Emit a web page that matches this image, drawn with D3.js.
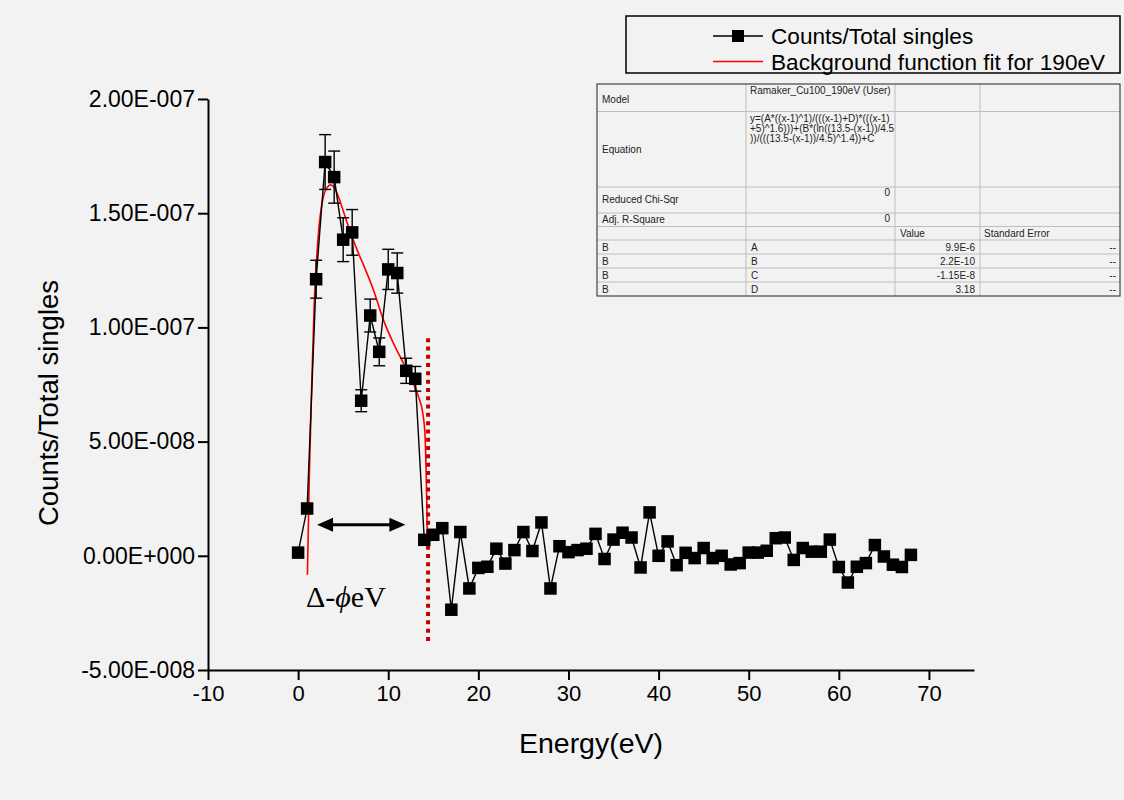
<!DOCTYPE html>
<html>
<head>
<meta charset="utf-8">
<script src="https://cdn.jsdelivr.net/npm/d3@7"></script>
<style>
  html, body { margin: 0; padding: 0; background: #f2f2f2; }
  svg { display: block; font-family: "Liberation Sans", Arial, sans-serif; }
</style>
</head>
<body>
<svg id="chart" width="1124" height="800"></svg>
<script>
// Measured spectrum: energy (eV) vs counts normalised to total singles
const energy = [0,1,2,3,4,5,6,7,8,9,10,11,12,13,14,15,16,17,18,19,20,21,22,23,24,25,26,27,28,29,30,
  31,32,33,34,35,36,37,38,39,40,41,42,43,44,45,46,47,48,49,50,51,52,53,54,55,56,57,58,59,60,
  61,62,63,64,65,66,67,68];
const ratio = [0.14e-8,2.07e-8,12.11e-8,17.24e-8,16.58e-8,13.84e-8,14.16e-8,6.79e-8,10.52e-8,8.93e-8,
  12.54e-8,12.38e-8,8.10e-8,7.75e-8,0.70e-8,0.92e-8,1.21e-8,-2.36e-8,1.04e-8,-1.43e-8,
  -0.53e-8,-0.48e-8,0.31e-8,-0.34e-8,0.25e-8,1.04e-8,0.21e-8,1.46e-8,-1.43e-8,0.42e-8,
  0.16e-8,0.25e-8,0.31e-8,0.96e-8,-0.14e-8,0.71e-8,1.01e-8,0.80e-8,-0.51e-8,1.90e-8,
  0.00e-8,0.63e-8,-0.41e-8,0.13e-8,-0.10e-8,0.34e-8,-0.10e-8,0.00e-8,-0.38e-8,-0.32e-8,
  0.14e-8,0.14e-8,0.22e-8,0.77e-8,0.80e-8,-0.18e-8,0.34e-8,0.18e-8,0.18e-8,0.71e-8,
  -0.49e-8,-1.17e-8,-0.48e-8,-0.32e-8,0.47e-8,-0.03e-8,-0.39e-8,-0.49e-8,0.04e-8];
// Error bars (only the peak region has errors larger than the marker)
const ratioErr = [0,0,0.83e-8,1.20e-8,1.14e-8,0.96e-8,1.00e-8,0.48e-8,0.72e-8,0.61e-8,
  0.88e-8,0.88e-8,0.55e-8,0.54e-8,0,0,0,0,0,0,
  0,0,0,0,0,0,0,0,0,0, 0,0,0,0,0,0,0,0,0,0, 0,0,0,0,0,0,0,0,0,0,
  0,0,0,0,0,0,0,0,0,0, 0,0,0,0,0,0,0,0,0];

// Background fit curve for 190 eV
const fitEnergy = [1.03,1.25,1.55,1.78,2.07,2.44,2.81,3.18,3.55,3.92,4.47,5.03,5.77,6.69,7.24,
  8.35,9.46,10.57,11.68,12.61,13.35,13.83,14.09,14.20,14.28,14.34];
const fitRatio = [-0.83e-8,3.62e-8,8.00e-8,10.92e-8,13.10e-8,14.86e-8,15.73e-8,16.10e-8,16.24e-8,
  16.17e-8,15.73e-8,15.07e-8,14.20e-8,13.25e-8,12.75e-8,11.65e-8,10.33e-8,9.31e-8,8.44e-8,
  7.71e-8,6.97e-8,6.25e-8,5.22e-8,3.77e-8,2.32e-8,0.70e-8];

// Axes
const xDomain = [-10, 75];
const yDomain = [-5e-8, 2e-7];
const xTicks = [-10, 0, 10, 20, 30, 40, 50, 60, 70];
const xTickLabels = ["-10", "0", "10", "20", "30", "40", "50", "60", "70"];
const xMinorTicks = [-5, 5, 15, 25, 35, 45, 55, 65, 75];
const yTicks = [-5e-8, 0, 5e-8, 1e-7, 1.5e-7, 2e-7];
const yTickLabels = ["-5.00E-008", "0.00E+000", "5.00E-008", "1.00E-007", "1.50E-007", "2.00E-007"];
const yMinorTicks = [-2.5e-8, 2.5e-8, 7.5e-8, 1.25e-7, 1.75e-7];
const xTitle = "Energy(eV)";
const yTitle = "Counts/Total singles";

// Annotations
const cutoffEnergy = 14.42;
const cutoffSpan = [-3.9e-8, 9.53e-8];
const arrowSpan = [2.1, 11.9];
const arrowLevel = 1.36e-8;

// Legend
const legendLabels = ["Counts/Total singles", "Background function fit for 190eV"];

// Fit report table
const fitModel = "Ramaker_Cu100_190eV (User)";
const fitEquation = ["y=(A*((x-1)^1)/(((x-1)+D)*(((x-1)", "+5)^1.6)))+(B*(ln((13.5-(x-1))/4.5", "))/(((13.5-(x-1))/4.5)^1.4))+C"];
const fitStatNames = ["Reduced Chi-Sqr", "Adj. R-Square"];
const fitStatValues = ["0", "0"];
const fitParamNames = ["A", "B", "C", "D"];
const fitParamValues = ["9.9E-6", "2.2E-10", "-1.15E-8", "3.18"];
const fitParamErrors = ["--", "--", "--", "--"];

const svg = d3.select("#chart");
const x = d3.scaleLinear().domain(xDomain).range([208, 974]);
const y = d3.scaleLinear().domain(yDomain).range([670, 99]);

const data = energy.map((e, i) => ({ e, v: ratio[i], err: ratioErr[i] }));

// ----- axes -----
const gx = svg.append("g").attr("transform", "translate(0,670)");
gx.call(d3.axisBottom(x).tickValues(xMinorTicks).tickSize(5).tickSizeOuter(0).tickFormat(""));
gx.call(d3.axisBottom(x).tickValues(xTicks).tickSize(10).tickSizeOuter(0).tickPadding(5)
  .tickFormat((d, i) => xTickLabels[i]));
gx.selectAll("path.domain").attr("stroke", "#000").attr("stroke-width", 2);
gx.selectAll(".tick line").attr("stroke", "#000").attr("stroke-width", 2);
gx.selectAll("text").attr("font-size", 22).attr("fill", "#000").attr("font-family", "Liberation Sans, Arial, sans-serif");

const gy = svg.append("g").attr("transform", "translate(208,0)");
gy.call(d3.axisLeft(y).tickValues(yMinorTicks).tickSize(5).tickSizeOuter(0).tickFormat(""));
gy.call(d3.axisLeft(y).tickValues(yTicks).tickSize(10).tickSizeOuter(0).tickPadding(3)
  .tickFormat((d, i) => yTickLabels[i]));
gy.selectAll("path.domain").attr("stroke", "#000").attr("stroke-width", 2);
gy.selectAll(".tick line").attr("stroke", "#000").attr("stroke-width", 2);
gy.selectAll("text").attr("font-size", 23).attr("fill", "#000").attr("font-family", "Liberation Sans, Arial, sans-serif");

svg.append("text").attr("x", 591).attr("y", 753).attr("text-anchor", "middle")
  .attr("font-size", 28.5).text(xTitle);
svg.append("text").attr("transform", "translate(58,403) rotate(-90)").attr("text-anchor", "middle")
  .attr("font-size", 27.5).text(yTitle);

// ----- fit curve -----
const fitLine = d3.line().x(d => x(d[0])).y(d => y(d[1])).curve(d3.curveMonotoneX);
svg.append("path").datum(fitEnergy.map((e, i) => [e, fitRatio[i]]))
  .attr("d", fitLine).attr("fill", "none").attr("stroke", "#ff0000").attr("stroke-width", 1.6);

// ----- cutoff marker -----
svg.append("line")
  .attr("x1", x(cutoffEnergy)).attr("x2", x(cutoffEnergy))
  .attr("y1", y(cutoffSpan[1])).attr("y2", y(cutoffSpan[0]))
  .attr("stroke", "#c00000").attr("stroke-width", 4).attr("stroke-dasharray", "4,4.3");

// ----- data: connecting line, error bars, markers -----
const dataLine = d3.line().x(d => x(d.e)).y(d => y(d.v));
svg.append("path").datum(data).attr("d", dataLine)
  .attr("fill", "none").attr("stroke", "#000").attr("stroke-width", 1.4);

const eb = svg.append("g").attr("stroke", "#000").attr("stroke-width", 1.4);
data.filter(d => d.err > 0).forEach(d => {
  const cx = x(d.e), yt = y(d.v + d.err), yb = y(d.v - d.err);
  eb.append("line").attr("x1", cx).attr("x2", cx).attr("y1", yt).attr("y2", yb);
  eb.append("line").attr("x1", cx - 6).attr("x2", cx + 6).attr("y1", yt).attr("y2", yt);
  eb.append("line").attr("x1", cx - 6).attr("x2", cx + 6).attr("y1", yb).attr("y2", yb);
});

const ms = 12.5;
svg.append("g").selectAll("rect").data(data).join("rect")
  .attr("x", d => x(d.e) - ms / 2).attr("y", d => y(d.v) - ms / 2)
  .attr("width", ms).attr("height", ms).attr("fill", "#000");

// ----- double-headed arrow and label -----
const ay = y(arrowLevel), ax1 = x(arrowSpan[0]), ax2 = x(arrowSpan[1]);
svg.append("line").attr("x1", ax1 + 12).attr("x2", ax2 - 12).attr("y1", ay).attr("y2", ay)
  .attr("stroke", "#000").attr("stroke-width", 3);
svg.append("path").attr("d", `M${ax1},${ay} L${ax1 + 16},${ay - 7} L${ax1 + 16},${ay + 7} Z`).attr("fill", "#000");
svg.append("path").attr("d", `M${ax2},${ay} L${ax2 - 16},${ay - 7} L${ax2 - 16},${ay + 7} Z`).attr("fill", "#000");

const lbl = svg.append("text").attr("x", 306).attr("y", 607)
  .attr("font-family", "Liberation Serif, 'Times New Roman', serif").attr("font-size", 30).attr("fill", "#000");
lbl.append("tspan").text("\u0394-");
lbl.append("tspan").attr("font-style", "italic").text("\u03d5");
lbl.append("tspan").text("eV");

// ----- legend -----
const lg = svg.append("g");
lg.append("rect").attr("x", 626).attr("y", 16).attr("width", 494).attr("height", 57)
  .attr("fill", "none").attr("stroke", "#000").attr("stroke-width", 1.5);
lg.append("line").attr("x1", 713).attr("x2", 763).attr("y1", 36).attr("y2", 36)
  .attr("stroke", "#000").attr("stroke-width", 1.4);
lg.append("rect").attr("x", 732).attr("y", 30).attr("width", 12).attr("height", 12).attr("fill", "#000");
lg.append("line").attr("x1", 713).attr("x2", 763).attr("y1", 61.5).attr("y2", 61.5)
  .attr("stroke", "#ff0000").attr("stroke-width", 1.6);
lg.selectAll("text.lab").data(legendLabels).join("text").attr("class", "lab")
  .attr("x", 771).attr("y", (d, i) => 36 + i * 25.5).attr("dy", "0.36em")
  .attr("font-size", 22.6).attr("fill", "#000").text(d => d);

// ----- fit report table -----
const tb = svg.append("g").attr("font-size", 10).attr("fill", "#222");
const colX = [597, 746, 895, 980, 1120];
const rowY = [84, 111.5, 187, 213, 226.5, 240, 254, 268, 282, 296];
const gridColor = "#bdbdbd";
rowY.slice(1, -1).forEach(ry => tb.append("line").attr("x1", colX[0]).attr("x2", colX[4])
  .attr("y1", ry).attr("y2", ry).attr("stroke", gridColor).attr("stroke-width", 1));
colX.slice(1, -1).forEach(cx => tb.append("line").attr("x1", cx).attr("x2", cx)
  .attr("y1", rowY[0]).attr("y2", rowY[rowY.length - 1]).attr("stroke", gridColor).attr("stroke-width", 1));
tb.append("rect").attr("x", colX[0]).attr("y", rowY[0]).attr("width", colX[4] - colX[0])
  .attr("height", rowY[rowY.length - 1] - rowY[0]).attr("fill", "none").attr("stroke", "#444").attr("stroke-width", 1.2);

const cell = (tx, ty, s, anchor) => tb.append("text").attr("x", tx).attr("y", ty)
  .attr("dy", "0.35em").attr("text-anchor", anchor || "start").text(s);

cell(602, 99.5, "Model");
cell(750, 90.5, fitModel);
cell(602, 149, "Equation");
fitEquation.forEach((s, i) => cell(750, 118 + i * 10.3, s));
fitStatNames.forEach((s, i) => {
  const top = rowY[2 + i], bot = rowY[3 + i];
  cell(602, i === 0 ? 199 : (top + bot) / 2, s);
  cell(890, top + 5.5, fitStatValues[i], "end");
});
cell(900, 233.5, "Value");
cell(984, 233.5, "Standard Error");
fitParamNames.forEach((p, i) => {
  const cy = (rowY[5 + i] + rowY[6 + i]) / 2;
  cell(602, cy, "B");
  cell(751, cy, p);
  cell(975, cy, fitParamValues[i], "end");
  cell(1116, cy, fitParamErrors[i], "end");
});
</script>
</body>
</html>
